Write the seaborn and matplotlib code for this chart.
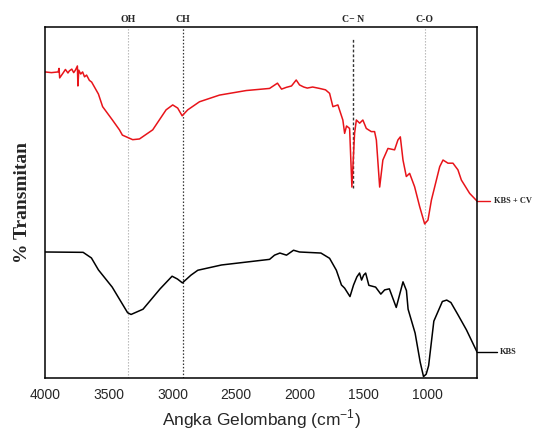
import numpy as np
import pandas as pd
import matplotlib
matplotlib.use("Agg")
import matplotlib.pyplot as plt
from matplotlib.ticker import MultipleLocator
import seaborn as sns

# ---- data ----
wn_kbscv = [4000, 3950, 3897, 3890, 3885, 3860, 3840, 3820, 3809, 3790, 3775, 3762, 3746, 3742, 3735,
            3720, 3705, 3690, 3674, 3652, 3634, 3581, 3548,
            3473, 3416, 3393, 3312, 3259, 3155, 3050, 2998, 2959, 2924, 2880, 2788, 2631, 2421,
            2238, 2176, 2144, 2107, 2066, 2029, 2003, 1970, 1942, 1900, 1846, 1799, 1767, 1741, 1702, 1663,
            1649, 1634, 1610, 1592, 1571, 1557, 1531, 1506, 1479, 1440, 1414, 1400, 1374, 1349,
            1309, 1257, 1231, 1212, 1191, 1165, 1139, 1100, 1060, 1021, 995, 968, 929, 903, 877,
            838, 799, 760, 733, 668, 610]
t_kbscv = [87.2, 87.0, 87.2, 88.2, 85.5, 86.8, 87.9, 86.9, 87.5, 88.0, 87.0, 87.7, 88.9, 83.2, 87.7,
           86.6, 87.2, 85.8, 86.3, 84.8, 84.3, 80.9, 77.3,
           73.6, 70.7, 69.2, 67.9, 68.1, 70.7, 76.4, 77.8, 76.9, 74.7, 76.4, 78.7, 80.6, 81.9,
           82.5, 84.0, 82.3, 82.8, 83.2, 84.9, 83.5, 82.9, 82.6, 82.9, 82.5, 82.1, 81.1, 77.3, 77.8, 73.5,
           69.7, 71.8, 71.1, 54.4, 69.7, 73.5, 72.6, 73.5, 71.1, 70.2, 70.2, 67.8, 54.4, 62.1,
           65.4, 65.0, 67.8, 68.7, 62.1, 57.4, 58.3, 54.5, 48.8, 43.9, 45.0, 50.7, 56.4, 60.2, 62.1,
           61.2, 61.2, 59.3, 56.4, 52.6, 50.4]

wn_kbs = [4000, 3701, 3636, 3581, 3473, 3352, 3325, 3231, 3097, 3003, 2961, 2922, 2855, 2801, 2615,
          2238, 2199, 2157, 2105, 2050, 2003, 1835, 1767, 1714, 1674, 1649, 1607, 1579, 1553,
          1532, 1516, 1500, 1484, 1459, 1406, 1365, 1335, 1298, 1244, 1191, 1164, 1151, 1096,
          1056, 1030, 1009, 990, 949, 882, 848, 815, 761, 693, 610]
t_kbs = [35.9, 35.8, 34.2, 30.8, 25.9, 18.6, 18.1, 19.6, 25.4, 29.0, 28.2, 27.1, 29.3, 30.7, 32.2,
         33.8, 35.0, 35.6, 35.0, 36.4, 35.9, 35.6, 34.1, 30.7, 26.5, 25.6, 23.2, 26.5, 28.8,
         29.9, 27.9, 29.3, 29.9, 26.4, 25.9, 23.9, 25.1, 25.4, 20.1, 27.4, 24.9, 19.6, 12.8,
         4.5, 0.4, 1.1, 3.5, 16.2, 21.8, 22.2, 21.5, 18.1, 13.7, 7.4]

series_names = ["KBS + CV", "KBS"]
band_labels = ["OH", "CH", "C\u2212 N", "C-O"]
band_positions = [3350, 2920, 1580, 1020]
x_ticks = [4000, 3500, 3000, 2500, 2000, 1500, 1000]

df = pd.concat([
    pd.DataFrame({"wn": wn_kbscv, "T": t_kbscv, "sample": series_names[0]}),
    pd.DataFrame({"wn": wn_kbs, "T": t_kbs, "sample": series_names[1]}),
])

sns.set_style("white")
plt.rcParams['font.family'] = ['Liberation Sans', 'DejaVu Sans']

fig = plt.figure(figsize=(5.36, 4.32), dpi=100)
ax = fig.add_axes([0.084, 0.125, 0.806, 0.8125])

palette = {series_names[0]: "#e8141a", series_names[1]: "#000000"}
sns.lineplot(data=df, x="wn", y="T", hue="sample", palette=palette, sort=False,
             estimator=None, linewidth=1.1, legend=False, ax=ax)

ax.set_xlim(4000, 610)
ax.set_ylim(0, 100)

# band marker lines
styles = [dict(color="#b0b0b0", ls=(0, (1.2, 1.5)), lw=0.8, ymin=0, ymax=1),
          dict(color="#333333", ls=(0, (1.2, 1.5)), lw=0.9, ymin=0, ymax=1),
          dict(color="#333333", ls=(0, (2, 1.5)), lw=1.0, ymin=0.541, ymax=0.968),
          dict(color="#b0b0b0", ls=(0, (1.2, 1.5)), lw=0.8, ymin=0, ymax=1)]
for pos, lab, st in zip(band_positions, band_labels, styles):
    ax.axvline(pos, ymin=st["ymin"], ymax=st["ymax"], color=st["color"],
               linestyle=st["ls"], linewidth=st["lw"], zorder=0)
    ax.text(pos, 100.8, lab, ha="center", va="bottom", fontsize=7,
            fontweight="bold", family=["Liberation Serif", "DejaVu Serif"])

# end labels
ax.plot([wn_kbscv[-1], 510], [t_kbscv[-1], t_kbscv[-1]], color="#e8141a", lw=1.0, clip_on=False)
ax.text(480, t_kbscv[-1], series_names[0], va="center", ha="left", fontsize=6,
        fontweight="bold", family=["Liberation Serif", "DejaVu Serif"], clip_on=False)
ax.plot([wn_kbs[-1], 450], [t_kbs[-1], t_kbs[-1]], color="black", lw=1.0, clip_on=False)
ax.text(430, t_kbs[-1], series_names[1], va="center", ha="left", fontsize=6,
        fontweight="bold", family=["Liberation Serif", "DejaVu Serif"], clip_on=False)

ax.set_xticks(x_ticks)
ax.xaxis.set_minor_locator(MultipleLocator(250))
ax.set_yticks([])
ax.tick_params(axis="x", which="major", direction="out", length=4, width=1, labelsize=10, pad=3)
ax.tick_params(axis="x", which="minor", direction="out", length=2.5, width=1)
for s in ax.spines.values():
    s.set_linewidth(1.1)
    s.set_color("black")

ax.set_xlabel("Angka Gelombang (cm$^{\\mathregular{-1}}$)", fontsize=12.5, labelpad=4)
ax.set_ylabel("% Transmitan", fontsize=14, fontweight="bold",
              family=["Liberation Serif", "DejaVu Serif"], labelpad=10)

fig.savefig("out.png", dpi=100)
